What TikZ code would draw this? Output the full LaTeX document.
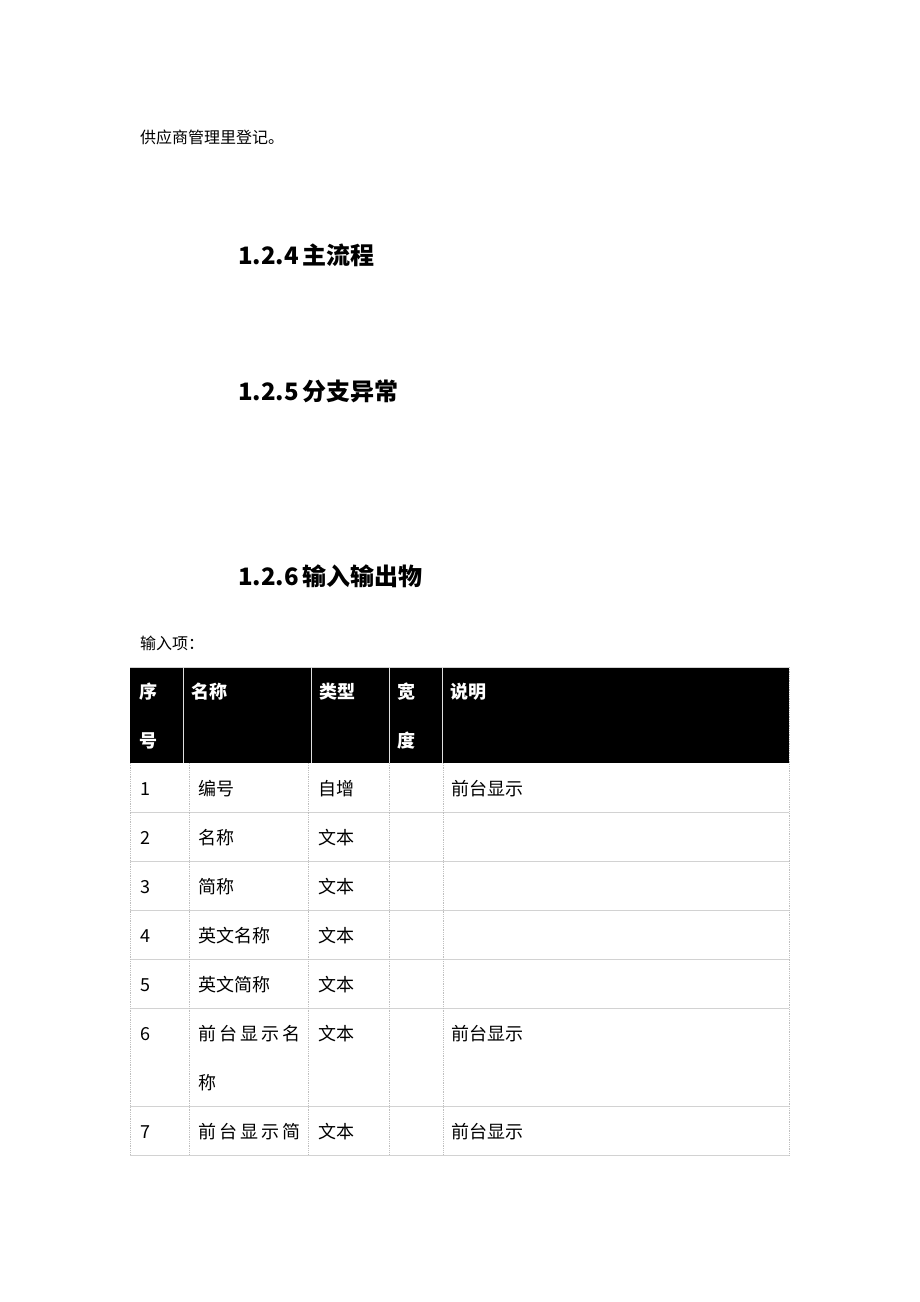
\documentclass[tikz,border=0pt]{standalone}
\usepackage{fontspec}
\setmainfont{Noto Sans CJK SC}
\newcommand{\wide}[1]{\makebox[102pt][s]{#1}}
\begin{document}
\begin{tikzpicture}[x=1pt,y=-1pt,
            every node/.style={inner sep=0pt,anchor=west},
            body/.style={font=\fontsize{16}{19}\selectfont},
            title/.style={font=\fontsize{24}{29}\selectfont\bfseries},
            head/.style={font=\fontsize{18}{22}\selectfont\bfseries,text=white},
            cell/.style={font=\fontsize{18}{22}\selectfont},
            rule/.style={draw=gray!35,line width=0.9pt},
            vrule/.style={draw=gray!50,line width=0.8pt,densely dotted}
            ]
            \useasboundingbox (0,0) rectangle (920,1302);
            \node[body] (reg) at (140,137) {供应商管理里登记。};
            \node[title] (sec4) at (238,255) {1.2.4\,主流程};
            \node[title] (sec5) at (238,391) {1.2.5\,分支异常};
            \node[title] (sec6) at (238,576) {1.2.6\,输入输出物};
            \node[body] (inlbl) at (140,643) {输入项：};
            % table head
            \fill[black] (130,667) rectangle (789,763);
            \draw[rule] (130,667) -- (789,667);
            \draw[draw=gray!25,line width=1pt] (183,667) -- (183,763) (311,667) -- (311,763)
                (389,667) -- (389,763) (442,667) -- (442,763);
            \node[head] (hno1) at (139,692) {序};
            \node[head] (hno2) at (139,741) {号};
            \node[head] (hname) at (191,692) {名称};
            \node[head] (htype) at (319,692) {类型};
            \node[head] (hwid1) at (397,692) {宽};
            \node[head] (hwid2) at (397,741) {度};
            \node[head] (hdesc) at (450,692) {说明};
            % table body
            \draw[rule] (130,812) -- (789,812) (130,861) -- (789,861) (130,910) -- (789,910)
                (130,959) -- (789,959) (130,1008) -- (789,1008) (130,1106) -- (789,1106)
                (130,1155) -- (789,1155);
            \draw[vrule] (130,763) -- (130,1155) (189,763) -- (189,1155) (308,763) -- (308,1155)
                (389,763) -- (389,1155) (443,763) -- (443,1155) (789,667) -- (789,1155);
            \node[cell] (n1) at (140,789) {1};
            \node[cell] (m1) at (198,789) {编号};
            \node[cell] (t1) at (318,789) {自增};
            \node[cell] (d1) at (451,789) {前台显示};
            \node[cell] (n2) at (140,838) {2};
            \node[cell] (m2) at (198,838) {名称};
            \node[cell] (t2) at (318,838) {文本};
            \node[cell] (n3) at (140,887) {3};
            \node[cell] (m3) at (198,887) {简称};
            \node[cell] (t3) at (318,887) {文本};
            \node[cell] (n4) at (140,936) {4};
            \node[cell] (m4) at (198,936) {英文名称};
            \node[cell] (t4) at (318,936) {文本};
            \node[cell] (n5) at (140,985) {5};
            \node[cell] (m5) at (198,985) {英文简称};
            \node[cell] (t5) at (318,985) {文本};
            \node[cell] (n6) at (140,1034) {6};
            \node[cell] (m6) at (198,1034) {\wide{前\hfill 台\hfill 显\hfill 示\hfill 名}};
            \node[cell] (m6b) at (198,1083) {称};
            \node[cell] (t6) at (318,1034) {文本};
            \node[cell] (d6) at (451,1034) {前台显示};
            \node[cell] (n7) at (140,1132) {7};
            \node[cell] (m7) at (198,1132) {\wide{前\hfill 台\hfill 显\hfill 示\hfill 简}};
            \node[cell] (t7) at (318,1132) {文本};
            \node[cell] (d7) at (451,1132) {前台显示};
        \end{tikzpicture}
\end{document}
